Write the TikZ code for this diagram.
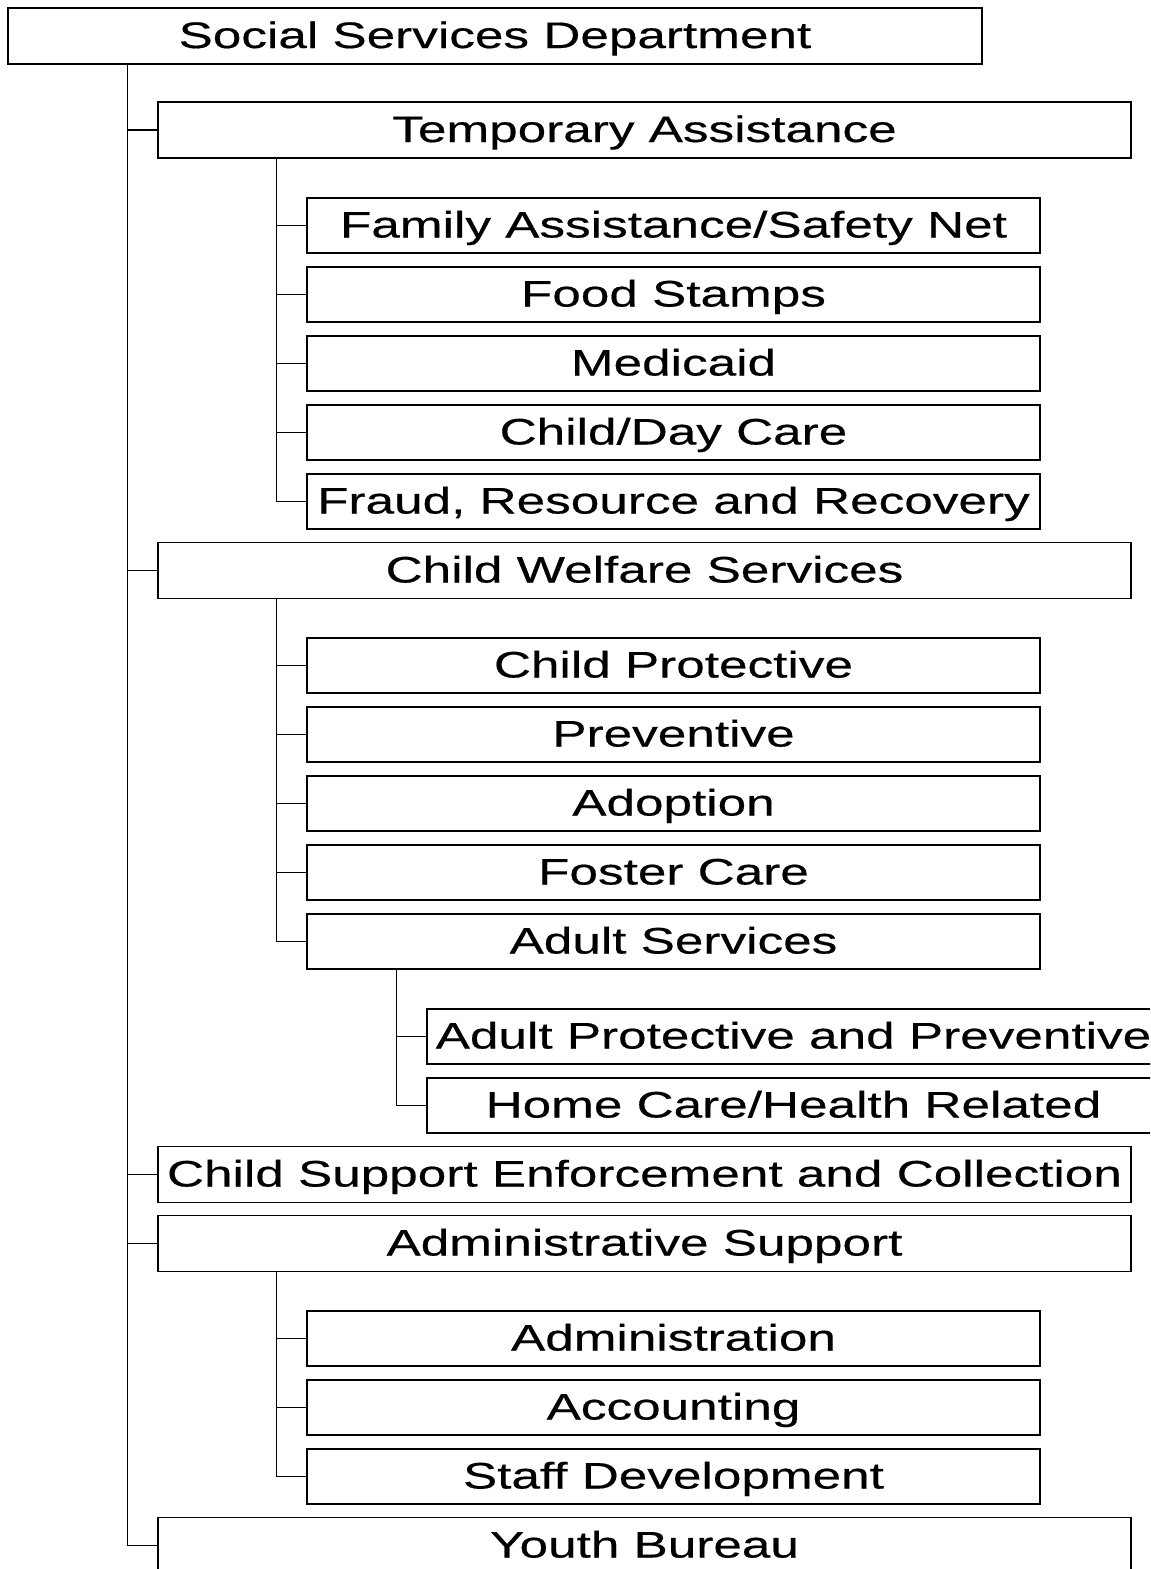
\documentclass[tikz,border=0pt]{standalone}
\usepackage{fontspec}
\setmainfont[FakeStretch=1.39, FakeBold=0.4]{Liberation Sans}
\usepackage{tikz}
\tikzset{
	unit/.style={draw, line width=0.85pt, fill=white, inner sep=0pt,
		text height=0.48cm, text depth=0pt,
		font=\fontsize{21}{25}\selectfont},
	top/.style={unit, minimum width=974*0.02cm, minimum height=56*0.02cm},
	division/.style={unit, minimum width=973*0.02cm, minimum height=56*0.02cm},
	section/.style={unit, minimum width=733*0.02cm, minimum height=55*0.02cm},
	link/.style={line width=0.85pt}
}

\begin{document}
\begin{tikzpicture}[x=0.02cm, y=-0.02cm]
	\useasboundingbox (0,0) rectangle (1150,1569);
	\clip (0,0) rectangle (1150,1569);

	\node[top] (dss) at (495, 36) {Social Services Department};

	\node[division] (ta) at (644.5, 130) {Temporary Assistance};
	\node[section] (fasn) at (673.5, 225.5) {Family Assistance/Safety Net};
	\node[section] (fs) at (673.5, 294.5) {Food Stamps};
	\node[section] (med) at (673.5, 363.5) {Medicaid};
	\node[section] (cdc) at (673.5, 432.5) {Child/Day Care};
	\node[section] (frr) at (673.5, 501.5) {Fraud, Resource and Recovery};

	\node[division] (cws) at (644.5, 570.5) {Child Welfare Services};
	\node[section] (cp) at (673.5, 665.5) {Child Protective};
	\node[section] (prev) at (673.5, 734.5) {Preventive};
	\node[section] (adopt) at (673.5, 803.5) {Adoption};
	\node[section] (foster) at (673.5, 872.5) {Foster Care};
	\node[section] (adult) at (673.5, 941.5) {Adult Services};
	\node[section] (app) at (793.5, 1036.5) {Adult Protective and Preventive};
	\node[section] (hchr) at (793.5, 1105.5) {Home Care/Health Related};

	\node[division] (csec) at (644.5, 1174.5) {Child Support Enforcement and Collection};

	\node[division] (ads) at (644.5, 1243.5) {Administrative Support};
	\node[section] (admin) at (673.5, 1338.5) {Administration};
	\node[section] (acct) at (673.5, 1407.5) {Accounting};
	\node[section] (staff) at (673.5, 1476.5) {Staff Development};

	\node[division] (yb) at (644.5, 1545.5) {Youth Bureau};

	\foreach \n in {ta, cws, csec, ads, yb}
		\draw[link] (dss.south west) ++(120,0) |- (\n.west);
	\foreach \n in {fasn, fs, med, cdc, frr}
		\draw[link] (ta.south west) ++(119,0) |- (\n.west);
	\foreach \n in {cp, prev, adopt, foster, adult}
		\draw[link] (cws.south west) ++(119,0) |- (\n.west);
	\foreach \n in {app, hchr}
		\draw[link] (adult.south west) ++(90,0) |- (\n.west);
	\foreach \n in {admin, acct, staff}
		\draw[link] (ads.south west) ++(119,0) |- (\n.west);
\end{tikzpicture}
\end{document}
